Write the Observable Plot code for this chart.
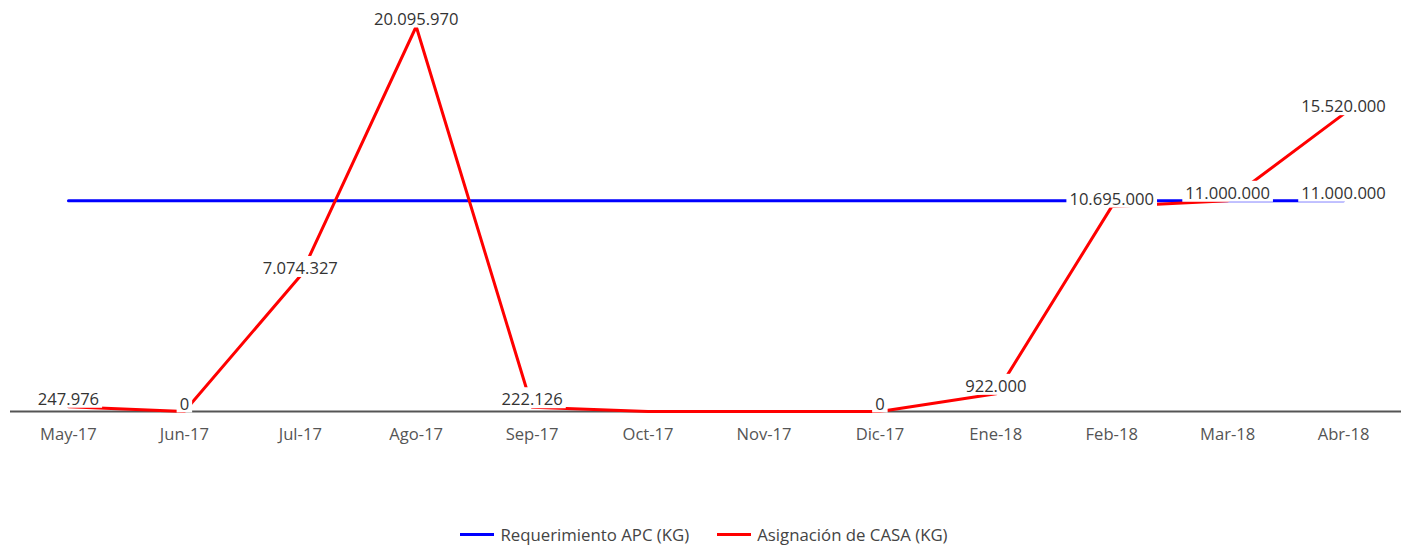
<!DOCTYPE html>
<html>
<head>
<meta charset="utf-8">
<script src="https://cdn.jsdelivr.net/npm/d3@7"></script>
<script src="https://cdn.jsdelivr.net/npm/@observablehq/plot@0.6"></script>
<style>
  html, body { margin: 0; padding: 0; background: #fff; }
  body { width: 1408px; height: 546px; overflow: hidden; font-family: "Open Sans", sans-serif; }
  #legend { display: flex; justify-content: center; align-items: center; gap: 28px; height: 36px; margin-top: 6px; font-size: 16.8px; color: #444; }
  .item { display: flex; align-items: center; gap: 6px; }
  .sw { width: 34px; height: 3px; }
</style>
</head>
<body>
<div id="chart"></div>
<div id="legend"></div>
<script>
const meses = ["May-17", "Jun-17", "Jul-17", "Ago-17", "Sep-17", "Oct-17", "Nov-17", "Dic-17", "Ene-18", "Feb-18", "Mar-18", "Abr-18"];
const requerimientoAPC = [11000000, 11000000, 11000000, 11000000, 11000000, 11000000, 11000000, 11000000, 11000000, 11000000, 11000000, 11000000];
const requerimientoEtiqueta = [false, false, false, false, false, false, false, false, false, false, false, true];
const asignacionCASA = [247976, 0, 7074327, 20095970, 222126, 0, 0, 0, 922000, 10695000, 11000000, 15520000];
const asignacionEtiqueta = [true, true, true, true, true, false, false, true, true, true, true, true];
const series = [
  {name: "Requerimiento APC (KG)", color: "#0000ff"},
  {name: "Asignación de CASA (KG)", color: "#ff0000"}
];

const fmt = d3.formatLocale({decimal: ",", thousands: ".", grouping: [3], currency: ["", ""]}).format(",d");

const reqData = meses.map((m, i) => ({mes: m, v: requerimientoAPC[i], label: requerimientoEtiqueta[i]}));
const asigData = meses.map((m, i) => ({mes: m, v: asignacionCASA[i], label: asignacionEtiqueta[i]}));
const labels = [...reqData.filter(d => d.label), ...asigData.filter(d => d.label)];

const plot = Plot.plot({
  width: 1408,
  height: 510,
  marginTop: 26,
  marginBottom: 99,
  marginLeft: 10,
  marginRight: 7,
  style: {fontFamily: "'Open Sans', sans-serif", fontSize: "16.6px", background: "#fff"},
  x: {type: "point", domain: meses, padding: 0.5, round: false, axis: null},
  y: {domain: [0, d3.max(asignacionCASA)], axis: null},
  marks: [
    Plot.ruleY([0], {stroke: "#555", strokeWidth: 2}),
    Plot.axisX({tickSize: 0, tickPadding: 17, fill: "#555", fontSize: 16.6, label: null}),
    Plot.line(reqData, {x: "mes", y: "v", stroke: series[0].color, strokeWidth: 3}),
    Plot.line(asigData, {x: "mes", y: "v", stroke: series[1].color, strokeWidth: 3}),
    Plot.text(labels, {x: "mes", y: "v", text: d => fmt(d.v), lineAnchor: "bottom", dy: -2, fill: "#333", fontSize: 16.6, className: "etiquetas"})
  ]
});
document.getElementById("chart").appendChild(plot);

// white backgrounds behind value labels
const texts = plot.querySelectorAll('.etiquetas text');
texts.forEach(t => {
  const b = t.getBBox();
  const r = document.createElementNS("http://www.w3.org/2000/svg", "rect");
  r.setAttribute("x", b.x - 3);
  r.setAttribute("y", b.y);
  r.setAttribute("width", b.width + 6);
  r.setAttribute("height", b.height - 2);
  r.setAttribute("fill", "#fff");
  r.setAttribute("stroke", "none");
  if (t.getAttribute("transform")) r.setAttribute("transform", t.getAttribute("transform"));
  t.parentNode.insertBefore(r, t);
});

const legend = document.getElementById("legend");
series.forEach(s => {
  const it = document.createElement("div");
  it.className = "item";
  const sw = document.createElement("div");
  sw.className = "sw";
  sw.style.background = s.color;
  const tx = document.createElement("span");
  tx.textContent = s.name;
  it.appendChild(sw);
  it.appendChild(tx);
  legend.appendChild(it);
});
</script>
</body>
</html>
